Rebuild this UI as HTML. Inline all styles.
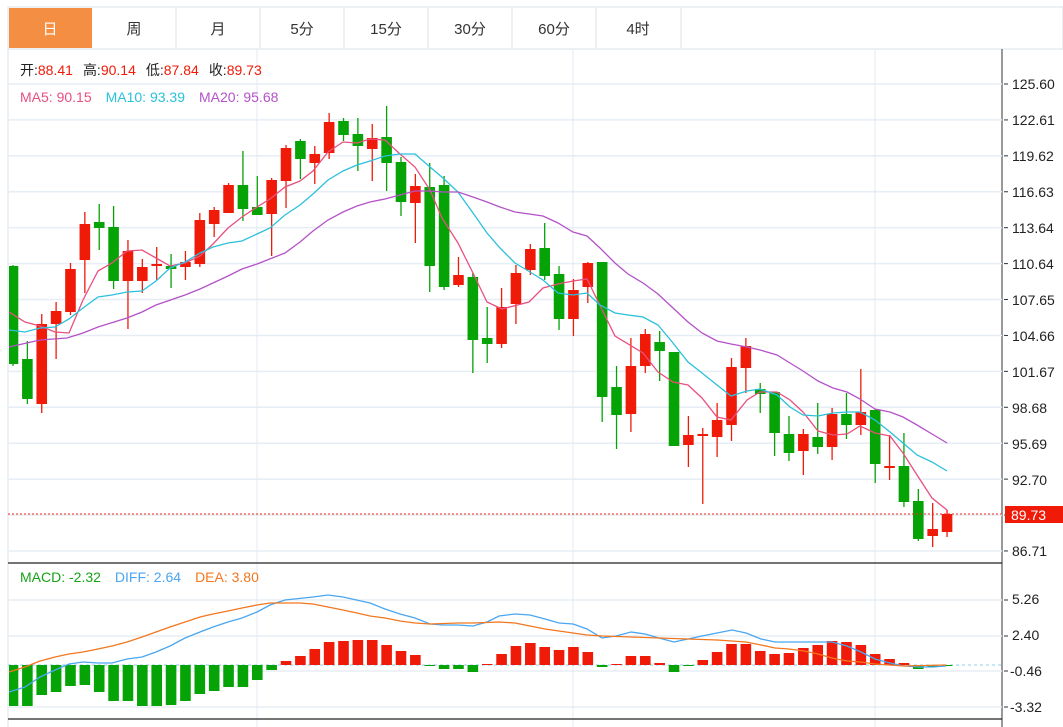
<!DOCTYPE html>
<html><head><meta charset="utf-8"><style>
body{margin:0;background:#fff;width:1063px;height:727px;overflow:hidden;font-family:"Liberation Sans","Noto Sans CJK SC",sans-serif}
svg{position:absolute;left:0;top:0}
</style></head><body>
<svg id="s" width="1063" height="727" xmlns="http://www.w3.org/2000/svg" font-family="Liberation Sans, Noto Sans CJK SC, sans-serif">
<rect x="8" y="7" width="1055" height="42" fill="#fff" stroke="#dde3ea"/>
<rect x="9" y="8" width="83" height="40" fill="#f38e42"/>
<g stroke="#dde3ea"><line x1="176" y1="8" x2="176" y2="48"/><line x1="260" y1="8" x2="260" y2="48"/><line x1="344" y1="8" x2="344" y2="48"/><line x1="428" y1="8" x2="428" y2="48"/><line x1="512" y1="8" x2="512" y2="48"/><line x1="596" y1="8" x2="596" y2="48"/><line x1="681" y1="8" x2="681" y2="48"/></g>
<g font-size="15" text-anchor="middle" fill="#333"><text x="50" y="34" fill="#fff">日</text><text x="134" y="34">周</text><text x="218" y="34">月</text><text x="302" y="34">5分</text><text x="386" y="34">15分</text><text x="470" y="34">30分</text><text x="554" y="34">60分</text><text x="638" y="34">4时</text></g>
<line x1="8" y1="49" x2="8" y2="727" stroke="#dde3ea"/>
<line x1="1002" y1="49" x2="1002" y2="727" stroke="#333"/>
<g id="grid" stroke="#e6edf4" stroke-width="1.5"></g>
<g id="ticks" stroke="#333"></g>
<g stroke="#e3e9f0"><line x1="257" y1="49" x2="257" y2="727"/><line x1="573" y1="49" x2="573" y2="727"/><line x1="875" y1="49" x2="875" y2="727"/></g>
<line x1="8" y1="563" x2="1002" y2="563" stroke="#222" stroke-width="1.2"/>
<line x1="8" y1="719" x2="1002" y2="719" stroke="#222" stroke-width="1.2"/>
<g font-size="14" fill="#222">
<text x="1012" y="89">125.60</text><text x="1012" y="125">122.61</text><text x="1012" y="161">119.62</text><text x="1012" y="197">116.63</text><text x="1012" y="233">113.64</text><text x="1012" y="269">110.64</text><text x="1012" y="305">107.65</text><text x="1012" y="341">104.66</text><text x="1012" y="377">101.67</text><text x="1012" y="413">98.68</text><text x="1012" y="449">95.69</text><text x="1012" y="485">92.70</text><text x="1012" y="556">86.71</text>
<text x="1012" y="604">5.26</text><text x="1012" y="640">2.40</text><text x="1010" y="676">-0.46</text><text x="1010" y="712">-3.32</text>
</g>
<g id="c"></g>
<line x1="8" y1="514" x2="1002" y2="514" stroke="#f0281a" stroke-dasharray="2,2"/>
<rect x="1005" y="506" width="58" height="17" fill="#f01a08"/>
<text x="1011" y="520" font-size="14" fill="#fff">89.73</text>
<g font-size="14">
<text x="20" y="75"><tspan fill="#222">开:</tspan><tspan fill="#f01a08">88.41</tspan><tspan fill="#222" dx="10">高:</tspan><tspan fill="#f01a08">90.14</tspan><tspan fill="#222" dx="10">低:</tspan><tspan fill="#f01a08">87.84</tspan><tspan fill="#222" dx="10">收:</tspan><tspan fill="#f01a08">89.73</tspan></text>
<text x="20" y="102"><tspan fill="#e8507f">MA5: 90.15</tspan><tspan fill="#2bc0dc" dx="14">MA10: 93.39</tspan><tspan fill="#b452c8" dx="14">MA20: 95.68</tspan></text>
<text x="20" y="582"><tspan fill="#17a317">MACD: -2.32</tspan><tspan fill="#4aa6f0" dx="14">DIFF: 2.64</tspan><tspan fill="#f2771f" dx="14">DEA: 3.80</tspan></text>
</g>
</svg>
<script>
var NS="http://www.w3.org/2000/svg",g=document.getElementById('c'),gr=document.getElementById('grid'),tk=document.getElementById('ticks');
function el(t,a,p){var e=document.createElementNS(NS,t);for(var k in a)e.setAttribute(k,a[k]);(p||g).appendChild(e);return e;}
for(var k=0;k<14;k++){var y=84+k*35.92;el('line',{x1:8,x2:1002,y1:y,y2:y},gr);el('line',{x1:1004,x2:1008,y1:y,y2:y},tk);}
[600,636,671,707].forEach(function(y){el('line',{x1:8,x2:1002,y1:y,y2:y},gr);el('line',{x1:1004,x2:1008,y1:y,y2:y},tk);});
el('line',{x1:8,x2:1002,y1:665,y2:665,stroke:'#8ccfee','stroke-dasharray':'3,3'});
var R='#f01a08',G='#06a306';
var C="g 266 364 265 366|g 359 399 341 404|r 324 404 314 413|r 311 324 302 359|r 269 312 263 315|r 224 260 212 293|g 222 228 204 250|g 227 281 206 289|r 251 281 240 329|r 267 281 259 293|r 264 266 247 280|g 266 269 254 288|r 262 267 251 280|r 220 264 213 267|r 210 224 207 237|r 185 213 183 213|g 185 209 151 221|g 207 215 176 215|r 180 214 178 256|r 148 181 145 208|g 141 159 139 179|r 154 163 146 184|r 122 153 113 159|g 121 135 118 141|g 134 146 118 171|r 138 149 124 181|g 137 163 106 191|g 162 202 157 216|r 186 203 174 243|g 187 266 163 292|g 185 287 176 290|r 275 285 257 287|g 277 340 273 373|g 338 344 307 363|r 307 344 288 348|r 273 304 265 324|r 249 270 244 275|g 248 276 223 280|g 274 319 266 330|r 290 319 279 336|r 263 287 262 303|g 262 397 262 422|g 387 415 366 449|r 366 414 338 432|r 334 366 329 373|g 342 351 331 381|g 352 446 352 446|r 435 445 416 467|r 434 436 428 504|r 420 437 403 457|r 367 425 358 441|r 346 368 338 393|g 389 394 383 413|g 392 433 392 456|g 434 453 416 461|r 434 451 429 475|g 437 447 403 454|r 414 447 408 460|g 414 425 393 439|r 412 425 369 435|g 410 464 409 483|r 466 468 435 480|g 466 502 433 507|g 501 539 489 541|r 529 536 503 547|r 514 532 510 537".split('|');
function X(i){return 13+i*14.37;}
C.forEach(function(s,i){var a=s.split(' '),col=a[0]=='r'?R:G,x=X(i),t=+a[1],b=+a[2];
el('line',{x1:x,x2:x,y1:a[3],y2:a[4],stroke:col,'stroke-width':1.3});
el('rect',{x:Math.max(x-5.3,9),y:t,width:x-5.3<9?x+5.3-9:10.6,height:Math.max(b-t,1.5),fill:col});});
var M="g706 g706 g695 g692 g686 g685 g692 g701 g701 g706 g706 g705 g701 g694 g691 g687 g687 g680 g670 r661 r656 r649 r642 r641 r640 r640 r645 r651 r655 g666 g669 g669 g672 r664 r654 r646 r643 r647 r650 r647 r652 g667 r664 r656 r656 r663 g672 g666 r660 r652 r644 r644 r651 r654 r653 r648 r645 r641 r642 r645 r654 r659 r663 g669 g667 g666".split(' ');
M.forEach(function(s,i){var y=+s.slice(1),x=X(i),t=Math.min(y,665),h=Math.max(Math.abs(y-665),1);
el('rect',{x:Math.max(x-5.3,9),y:t,width:x-5.3<9?x+5.3-9:10.6,height:h,fill:s[0]=='r'?R:G});});
function L(p,c){el('polyline',{points:p,fill:'none',stroke:c,'stroke-width':1.3});}
L("9,312 25,322 40,326 55,332 69,333 83,300 98,271 112,263 127,251 142,250 156,258 170,266 185,263 200,256 213,244 228,228 242,217 257,207 270,199 285,187 300,181 313,171 328,152 343,142 357,143 370,139 385,140 400,154 415,167 430,190 442,218 458,243 473,273 487,302 502,309 529,302 543,288 558,284 573,281 587,279 615,336 643,353 658,372 673,382 688,385 702,398 717,417 731,420 747,400 760,392 777,392 790,400 803,412 818,431 833,435 847,434 860,426 875,433 890,436 903,453 917,475 932,498 947,510","#e8507f");
L("9,330 25,332 40,328 55,327 69,319 83,308 98,297 112,295 127,292 142,291 156,281 170,268 185,262 200,253 213,247 228,243 242,241 257,234 270,228 285,215 300,205 313,194 328,180 343,171 357,165 370,161 385,156 400,154 415,154 430,167 443,178 458,192 473,213 487,233 500,248 515,263 530,272 543,280 558,293 573,295 587,293 600,305 615,313 628,315 643,317 658,325 673,343 688,362 702,373 717,385 731,396 747,391 760,389 777,395 790,407 803,415 818,416 833,413 847,412 860,412 875,420 890,432 903,443 917,455 932,462 947,471","#2bc0dc");
L("9,347 40,340 67,338 83,333 98,327 127,318 142,312 156,305 185,295 200,289 213,283 228,276 242,269 257,264 285,253 300,242 313,231 328,220 343,212 357,206 370,202 385,199 400,195 415,191 430,191 443,192 458,192 473,197 487,202 500,207 515,212 543,216 558,223 573,232 587,236 600,248 615,263 628,274 643,283 658,294 673,308 688,322 702,333 717,341 731,344 747,347 760,350 777,355 790,363 803,371 818,381 833,388 847,392 860,399 875,409 890,412 903,417 917,425 932,434 947,443","#b452c8");
L("9,692 25,687 40,677 55,670 69,664 83,662 98,663 112,663 127,659 142,657 156,652 170,646 185,638 200,632 213,627 228,622 242,618 257,612 270,605 285,600 313,597 328,595 343,597 370,603 385,609 400,614 415,618 430,624 443,625 458,625 473,626 487,622 499,616 515,614 530,615 545,619 559,623 573,624 587,629 602,638 616,636 631,632 645,634 659,638 674,642 688,639 702,636 717,633 732,630 746,633 761,639 775,642 789,642 804,642 818,642 832,642 847,646 861,652 875,659 890,663 904,666 919,667 933,667 946,666","#4aa6f0");
L("9,672 25,667 40,661 55,657 69,654 83,652 98,649 112,646 127,642 142,637 156,632 170,627 185,622 200,617 213,614 228,611 242,608 257,605 270,603 285,603 300,603 313,604 328,607 343,610 357,613 370,616 385,618 400,621 415,623 430,624 458,623 473,623 499,622 515,623 530,626 545,629 559,631 573,633 587,635 602,636 631,637 659,638 688,639 717,640 746,642 761,645 775,648 789,649 804,651 818,654 832,658 847,661 861,662 875,664 904,666 946,665","#f2771f");
</script>
</body></html>
